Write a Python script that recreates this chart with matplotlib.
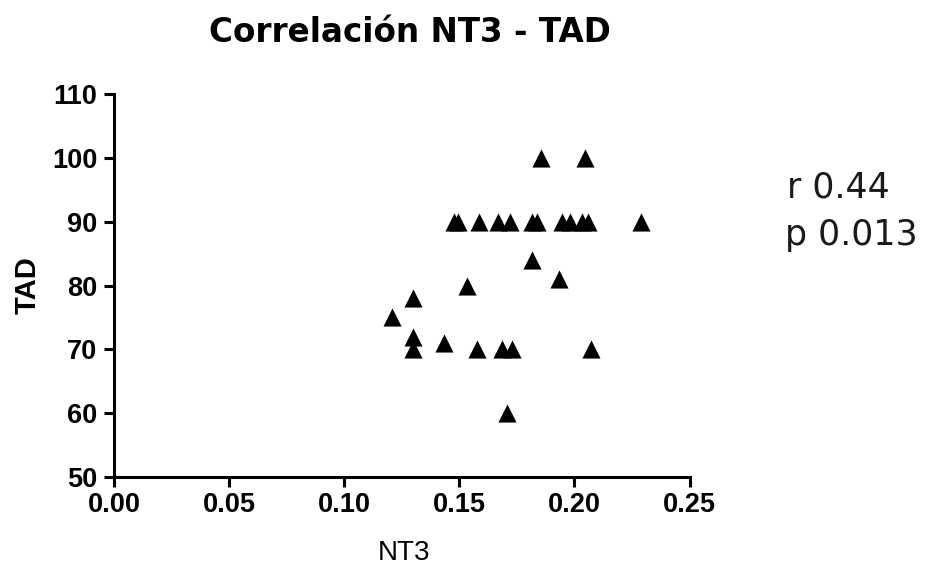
import matplotlib
matplotlib.use("Agg")
import matplotlib.pyplot as plt

nt3 = [0.1477, 0.1496, 0.1584, 0.1670, 0.1720, 0.1814, 0.1836, 0.1944, 0.1980, 0.2034, 0.2060, 0.2290,
       0.1857, 0.2045,
       0.1814, 0.1934, 0.1535, 0.1297, 0.1207, 0.1297, 0.1297, 0.1435, 0.1576, 0.1684, 0.1730, 0.2074, 0.1706]
tad = [90, 90, 90, 90, 90, 90, 90, 90, 90, 90, 90, 90,
       100, 100,
       84, 81, 80, 78, 75, 72, 70, 71, 70, 70, 70, 70, 60]

xticks = [0.00, 0.05, 0.10, 0.15, 0.20, 0.25]
xticklabels = ["0.00", "0.05", "0.10", "0.15", "0.20", "0.25"]
yticks = [50, 60, 70, 80, 90, 100, 110]
stats_lines = ["r 0.44", "p 0.013"]

plt.rcParams['font.family'] = ['Liberation Sans', 'DejaVu Sans']

fig = plt.figure(figsize=(9.39, 5.66), dpi=100)
ax = fig.add_axes([0.1214, 0.1572, 0.6129, 0.6767])
ax.scatter(nt3, tad, marker='^', s=170, color='black', linewidths=0, zorder=3)
ax.set_xlim(0, 0.25)
ax.set_ylim(50, 110)
ax.set_xticks(xticks)
ax.set_xticklabels(xticklabels)
ax.set_yticks(yticks)
for sp in ['top', 'right']:
    ax.spines[sp].set_visible(False)
for sp in ['left', 'bottom']:
    ax.spines[sp].set_linewidth(2.2)
ax.tick_params(direction='out', length=7, width=2.2, labelsize=19.5)
ax.tick_params(axis='x', pad=4)
ax.tick_params(axis='y', pad=5)
for lab in ax.get_xticklabels() + ax.get_yticklabels():
    lab.set_fontweight('bold')
ax.set_xlabel("NT3", fontsize=20, va='center')
ax.xaxis.set_label_coords(0.504, -0.199)
ax.set_ylabel("TAD", fontsize=21, fontweight='bold', va='center')
ax.yaxis.set_label_coords(-0.1508, 0.5)
fig.text(410 / 939, 1 - 42 / 566, "Correlación NT3 - TAD", fontsize=23.5, fontweight='bold',
         family=['DejaVu Sans'], ha='center', va='baseline')
fig.text(787 / 939, 1 - 198 / 566, stats_lines[0], fontsize=25, color='#1a1a1a',
         family=['DejaVu Sans'], ha='left', va='baseline')
fig.text(785 / 939, 1 - 245 / 566, stats_lines[1], fontsize=25, color='#1a1a1a',
         family=['DejaVu Sans'], ha='left', va='baseline')
fig.savefig("out.png", dpi=100)
